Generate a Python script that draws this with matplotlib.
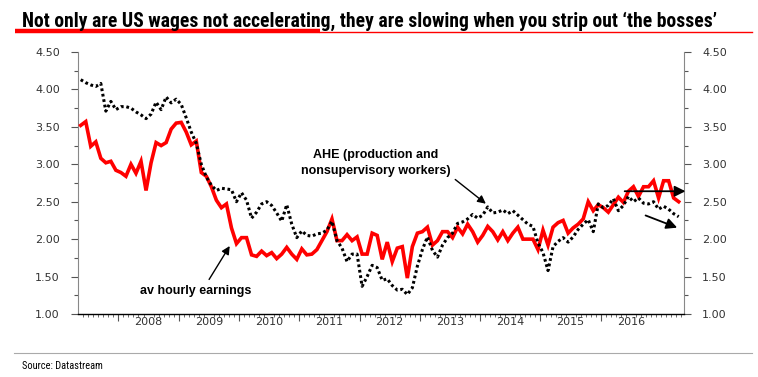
import numpy as np
import pandas as pd
import matplotlib
matplotlib.use("Agg")
from matplotlib import pyplot as plt
from matplotlib import font_manager
from matplotlib.ticker import MultipleLocator

# monthly y/y % growth, May 2007 onwards
START = "2007-05-01"

av_hourly = [3.52, 3.57, 3.24, 3.30, 3.08, 3.02, 3.04, 2.92, 2.89, 2.84,
             3.00, 2.88, 3.04, 2.65, 3.02, 3.29, 3.25, 3.29, 3.47, 3.55,
             3.56, 3.43, 3.26, 3.31, 2.89, 2.84, 2.70, 2.52, 2.42, 2.47,
             2.15, 1.94, 2.02, 2.02, 1.79, 1.77, 1.84, 1.78, 1.82, 1.74,
             1.80, 1.89, 1.80, 1.73, 1.87, 1.79, 1.80, 1.86, 1.98, 2.10,
             2.27, 1.98, 1.98, 2.06, 1.98, 2.03, 1.80, 1.80, 2.08, 2.05,
             1.73, 1.96, 1.70, 1.88, 1.90, 1.48, 1.90, 2.08, 2.10, 2.16,
             1.92, 1.98, 2.10, 2.10, 2.02, 2.16, 2.07, 2.20, 2.10, 1.96,
             2.05, 2.17, 2.10, 1.99, 2.10, 1.98, 2.08, 2.16, 2.00, 2.00,
             2.00, 1.86, 2.12, 1.92, 2.16, 2.22, 2.25, 2.08, 2.15, 2.20,
             2.27, 2.50, 2.38, 2.46, 2.42, 2.36, 2.46, 2.56, 2.49, 2.64,
             2.70, 2.57, 2.70, 2.70, 2.78, 2.55, 2.78, 2.78, 2.55, 2.50]

ahe_prod = [4.13, 4.09, 4.06, 4.04, 4.08, 3.71, 3.84, 3.73, 3.77, 3.77,
            3.75, 3.70, 3.66, 3.61, 3.67, 3.83, 3.73, 3.90, 3.82, 3.87,
            3.80, 3.62, 3.43, 3.28, 3.00, 2.83, 2.72, 2.65, 2.68, 2.67,
            2.66, 2.50, 2.62, 2.52, 2.28, 2.36, 2.47, 2.50, 2.45, 2.35,
            2.24, 2.46, 2.20, 2.02, 2.11, 2.05, 2.04, 2.07, 2.08, 2.12,
            2.24, 1.98, 1.88, 1.70, 1.80, 1.80, 1.37, 1.50, 1.65, 1.62,
            1.45, 1.47, 1.38, 1.32, 1.33, 1.26, 1.35, 1.64, 1.86, 2.03,
            1.85, 1.76, 1.92, 2.02, 2.08, 2.21, 2.23, 2.27, 2.33, 2.28,
            2.32, 2.43, 2.35, 2.36, 2.39, 2.34, 2.38, 2.32, 2.26, 2.20,
            2.17, 1.95, 1.82, 1.58, 1.90, 1.97, 2.02, 1.96, 2.03, 2.13,
            2.20, 2.26, 2.10, 2.47, 2.42, 2.45, 2.54, 2.38, 2.45, 2.57,
            2.50, 2.55, 2.48, 2.47, 2.50, 2.40, 2.44, 2.40, 2.34, 2.30]

years = list(range(2008, 2017))
year_labels = [str(y) for y in years]
ytick_vals = [1.0, 1.5, 2.0, 2.5, 3.0, 3.5, 4.0, 4.5]

TITLE = "Not only are US wages not accelerating, they are slowing when you strip out \u2018the bosses\u2019"

# pick a narrow face if one is around, else plain Liberation Sans
installed = {f.name for f in font_manager.fontManager.ttflist}
narrow = "Liberation Sans"
for name in ["Liberation Sans Narrow", "DejaVu Sans Condensed", "Roboto Condensed", "Open Sans Condensed"]:
    if name in installed:
        narrow = name
        break

dates = pd.date_range(START, periods=len(av_hourly), freq="MS")
# decimal years, plotted mid-month
x = dates.year + (dates.month - 1 + 0.5) / 12.0

W, H = 758, 377
fig = plt.figure(figsize=(W / 100, H / 100), dpi=100)
ax = fig.add_axes([78 / W, 1 - 314 / H, (684 - 78) / W, (314 - 52) / H])

ax.plot(x, av_hourly, color="#ff0000", lw=2.6, solid_joinstyle="miter", zorder=3)
ax.plot(x, ahe_prod, color="black", lw=2.2, ls=(0, (0.9, 0.9)), zorder=4)

ax.set_xlim(2007.33, 2017.38)
ax.set_ylim(1.0, 4.5)

tick_font = dict(family="DejaVu Sans", size=8, color="#333333")
ax.set_yticks(ytick_vals)
ax.set_yticklabels(["%.2f" % v for v in ytick_vals], fontdict=tick_font)
ax.yaxis.set_minor_locator(MultipleLocator(0.25))
ax.tick_params(axis="y", which="both", left=True, right=True, labelleft=True,
               labelright=True, direction="out", color="#555555", width=0.8)
ax.tick_params(axis="y", which="major", length=5, pad=8)
ax.tick_params(axis="y", which="minor", length=3)

# year labels centred mid-year, month ticks, longer ticks at year starts
ax.set_xticks([y + 0.5 for y in years])
ax.set_xticklabels(year_labels, fontdict=tick_font)
ax.set_xticks(np.arange(2007 + 5 / 12, 2017.38, 1 / 12), minor=True)
ax.tick_params(axis="x", which="major", length=0, pad=2)
ax.tick_params(axis="x", which="minor", length=2.5, width=0.6, color="#555555")
sec = ax.secondary_xaxis("bottom")
sec.set_xticks(years)
sec.tick_params(length=5, width=0.8, color="#555555", labelbottom=False)
sec.spines["bottom"].set_visible(False)

ax.spines["top"].set_visible(False)
for s in ["left", "right"]:
    ax.spines[s].set_color("#888888")
    ax.spines[s].set_linewidth(0.8)
ax.spines["bottom"].set_color("black")
ax.spines["bottom"].set_linewidth(1.0)

bold = dict(family="Liberation Sans", weight="bold", size=9)
ax.text(2012.27, 3.02, "AHE (production and\nnonsupervisory workers)", ha="center",
        va="center", linespacing=1.45, **bold)
ax.annotate("", xy=(2014.13, 2.45), xytext=(2013.55, 2.82),
            arrowprops=dict(arrowstyle="-|>", color="black", lw=1, mutation_scale=12))
ax.text(2009.28, 1.31, "av hourly earnings", ha="center", va="center", **bold)
ax.annotate("", xy=(2009.87, 1.94), xytext=(2009.48, 1.43),
            arrowprops=dict(arrowstyle="-|>", color="black", lw=1, mutation_scale=12))
ax.annotate("", xy=(2017.45, 2.64), xytext=(2016.35, 2.64), annotation_clip=False,
            arrowprops=dict(arrowstyle="-|>", color="black", lw=1.3, mutation_scale=16))
ax.annotate("", xy=(2017.31, 2.14), xytext=(2016.70, 2.33), annotation_clip=False,
            arrowprops=dict(arrowstyle="-|>", color="black", lw=1.3, mutation_scale=16))

# title, sized so it spans the same width as in the original (~693 px)
title = fig.text(22 / W, 1 - 21 / H, TITLE, family=narrow, weight="bold", size=13.5,
                 ha="left", va="center")
renderer = fig.canvas.get_renderer()
tw = title.get_window_extent(renderer).width
title.set_fontsize(min(15.0, 13.5 * 693 / tw))
fig.add_artist(plt.Line2D([320 / W, 752 / W], [1 - 32 / H, 1 - 32 / H], color="#ff0000", lw=1.0))
fig.add_artist(plt.Line2D([15 / W, 320 / W], [1 - 31 / H, 1 - 31 / H], color="#ff0000", lw=3.2,
                          solid_capstyle="butt"))

# source footer
fig.add_artist(plt.Line2D([14 / W, 752 / W], [1 - 353 / H, 1 - 353 / H], color="#aaaaaa", lw=0.8))
fig.text(22 / W, 1 - 366 / H, "Source: Datastream", family=narrow, size=7.5,
         ha="left", va="center")

fig.savefig("out.png", dpi=100)
